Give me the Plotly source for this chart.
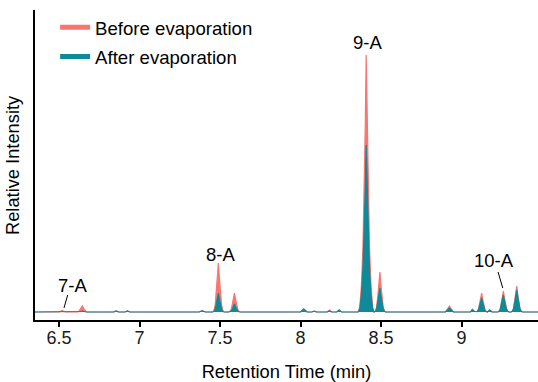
import plotly.graph_objects as go

# Retention time grid (min) and relative intensities
time_min = [
    6.35,
    6.50, 6.51, 6.52, 6.53, 6.54,
    6.62, 6.635, 6.645, 6.655, 6.67,
    6.84, 6.855, 6.87, 6.91, 6.925, 6.94,
    7.37, 7.38, 7.39, 7.40, 7.41,
    7.455, 7.462, 7.47, 7.477, 7.484, 7.49, 7.496, 7.503, 7.51, 7.518, 7.525,
    7.555, 7.562, 7.57, 7.577, 7.584, 7.59, 7.596, 7.603, 7.61, 7.618, 7.625,
    8.00, 8.01, 8.02, 8.03, 8.04,
    8.07, 8.085, 8.10,
    8.165, 8.18, 8.195,
    8.225, 8.24, 8.255,
    8.358, 8.368, 8.378, 8.388, 8.396, 8.402, 8.408, 8.414, 8.42, 8.428, 8.438, 8.448, 8.456,
    8.46, 8.466, 8.473, 8.48, 8.487, 8.493, 8.499, 8.506, 8.513, 8.521, 8.528,
    8.90, 8.913, 8.925, 8.937, 8.95,
    9.055, 9.067, 9.08,
    9.09, 9.097, 9.105, 9.112, 9.119, 9.125, 9.131, 9.138, 9.145, 9.153, 9.16,
    9.175, 9.19,
    9.225, 9.232, 9.24, 9.247, 9.254, 9.26, 9.266, 9.273, 9.28, 9.288, 9.295,
    9.308, 9.315, 9.323, 9.33, 9.337, 9.343, 9.349, 9.356, 9.363, 9.371, 9.378,
    9.48,
]

before_evap = [
    0,
    0, 0.8, 1.5, 0.8, 0,
    0, 3, 6, 3, 0,
    0, 1, 0, 0, 1, 0,
    0, 0.8, 1.5, 0.8, 0,
    0, 1.5, 6.9, 19.1, 34.3, 49, 34.3, 19.1, 6.9, 1.5, 0,
    0, 0.6, 2.7, 7.4, 13.3, 19, 13.3, 7.4, 2.7, 0.6, 0,
    0, 1.5, 3, 1.5, 0,
    0, 0.8, 0,
    0, 2, 0,
    0, 2, 0,
    0, 5.1, 25.7, 66.8, 123.4, 185, 257, 185, 123.4, 66.8, 25.7, 5.1, 0,
    0, 1.2, 5.6, 15.6, 28, 40, 28, 15.6, 5.6, 1.2, 0,
    0, 3, 6, 3, 0,
    0, 2.5, 0.5,
    0.3, 0.6, 2.7, 7.4, 13.3, 19, 13.3, 7.4, 2.7, 0.6, 0,
    2, 0,
    0, 0.6, 2.9, 8.2, 14.7, 21, 14.7, 8.2, 2.9, 0.6, 0,
    0, 0.8, 3.6, 10.1, 18.2, 26, 18.2, 10.1, 3.6, 0.8, 0,
    0,
]

after_evap = [
    0,
    0, 0.3, 0.5, 0.3, 0,
    0, 0.5, 1, 0.5, 0,
    0, 1, 0, 0, 1, 0,
    0, 0.5, 1, 0.5, 0,
    0, 0.6, 2.7, 7.4, 13.3, 19, 13.3, 7.4, 2.7, 0.6, 0,
    0, 0.2, 1.1, 3, 5.6, 8, 5.6, 3, 1.1, 0.2, 0,
    0, 1.5, 3, 1.5, 0,
    0, 0.8, 0,
    0, 1, 0,
    0, 2, 0,
    0, 3.3, 16.7, 43.4, 80.2, 120.2, 167, 120.2, 80.2, 43.4, 16.7, 3.3, 0,
    0, 0.7, 3.4, 9.4, 16.8, 24, 16.8, 9.4, 3.4, 0.7, 0,
    0, 2, 4, 2, 0,
    0, 2.5, 0.5,
    0.3, 0.4, 2, 5.5, 9.8, 14, 9.8, 5.5, 2, 0.4, 0,
    2, 0,
    0, 0.5, 2.4, 6.6, 11.9, 17, 11.9, 6.6, 2.4, 0.5, 0,
    0, 0.7, 3.1, 8.6, 15.4, 22, 15.4, 8.6, 3.1, 0.7, 0,
    0,
]

series_names = ["Before evaporation", "After evaporation"]
series_colors = ["#F9766F", "#0E8A98"]
tick_vals = [6.5, 7, 7.5, 8, 8.5, 9]
tick_text = ["6.5", "7", "7.5", "8", "8.5", "9"]

peak_labels = ["7-A", "8-A", "9-A", "10-A"]
peak_label_x = [6.581, 7.506, 8.416, 9.199]
peak_label_y = [27, 58, 270, 52]

FONT = "Liberation Sans, Arial, sans-serif"

fig = go.Figure()
for name, vals, col in zip(series_names, [before_evap, after_evap], series_colors):
    fig.add_trace(go.Scatter(
        x=time_min, y=vals, mode="lines", fill="tozeroy",
        fillcolor=col, line=dict(color=col, width=1.2),
        showlegend=False, hoverinfo="skip",
    ))
    fig.add_trace(go.Scatter(
        x=[None], y=[None], mode="lines", name=name,
        line=dict(color=col, width=5), legendgroup=name,
    ))

for lab, lx, ly in zip(peak_labels, peak_label_x, peak_label_y):
    fig.add_annotation(x=lx, y=ly, text=lab, showarrow=False,
                       font=dict(size=18.5, color="black", family=FONT),
                       xanchor="center", yanchor="middle")

# y-axis title placed as rotated text close to the axis
fig.add_annotation(x=-0.0457, y=0.5, xref="paper", yref="paper",
                   text="Relative Intensity", textangle=-90, showarrow=False,
                   font=dict(size=18.3, color="black", family=FONT),
                   xanchor="center", yanchor="middle")

# leader lines for 7-A and 10-A
fig.add_shape(type="line", x0=6.554, y0=17, x1=6.531, y1=4,
              line=dict(color="black", width=1))
fig.add_shape(type="line", x0=9.227, y0=40, x1=9.256, y1=24,
              line=dict(color="black", width=1))

fig.update_layout(
    width=538, height=382,
    margin=dict(l=35, r=0, t=10, b=62),
    paper_bgcolor="white", plot_bgcolor="white",
    font=dict(family=FONT, size=18, color="black"),
    legend=dict(x=0.04, y=1.004, xanchor="left", yanchor="top",
                bgcolor="rgba(0,0,0,0)", font=dict(size=18.6),
                tracegroupgap=2, traceorder="grouped"),
    xaxis=dict(
        range=[6.351, 9.475], tickvals=tick_vals, ticktext=tick_text,
        showgrid=False, zeroline=False, showline=True, linecolor="black",
        linewidth=2, ticks="outside", ticklen=5, tickwidth=1.5, tickcolor="black",
        tickfont=dict(size=18, color="#1a1a1a"), ticklabelstandoff=-5,
        title=dict(text="Retention Time (min)", font=dict(size=18.3), standoff=22),
    ),
    yaxis=dict(
        range=[-8, 302], showticklabels=False, ticks="", showgrid=False,
        zeroline=False, showline=True, linecolor="black", linewidth=2,
    ),
)

fig.write_html("out.html")
